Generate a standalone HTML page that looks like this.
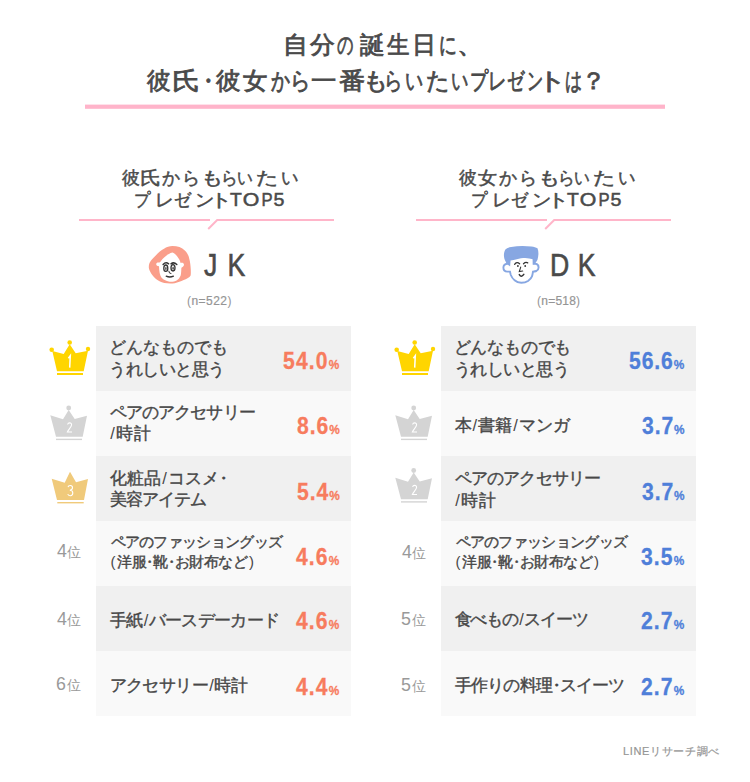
<!DOCTYPE html>
<html><head><meta charset="utf-8">
<style>
html,body{margin:0;padding:0;background:#fff;}
body{width:750px;height:782px;position:relative;overflow:hidden;font-family:"Liberation Sans",sans-serif;color:#4a4a4a;}
.t{position:absolute;white-space:nowrap;line-height:1;}
.row{position:absolute;width:255px;height:65px;}
.d{background:#f0f0f0;}
.l{background:#f9f9f9;}
.title{color:#4a4a4a;-webkit-text-stroke:0.8px #4a4a4a;}
.sub{color:#4a4a4a;-webkit-text-stroke:0.5px #4a4a4a;}
.name{color:#4a4a4a;-webkit-text-stroke:0.6px #4a4a4a;transform:scaleX(.86);transform-origin:0 0;}
.n{color:#959595;-webkit-text-stroke:0.2px #959595;}
.item{color:#474747;-webkit-text-stroke:0.4px #474747;}
.nd{font-style:normal;margin:0 -0.25em;}
.title .nd{margin:0 -0.12em;}
.sl{font-style:normal;margin:0 1.2px;-webkit-text-stroke:0;}
.pl{font-style:normal;margin-right:2px;-webkit-text-stroke:0;}
.pr{font-style:normal;margin-left:2px;-webkit-text-stroke:0;}
.n .pl,.n .pr{margin:0;}
.nd2{font-style:normal;margin-right:-0.4em;}
.pct{font-weight:bold;transform:scaleX(.88);transform-origin:0 0;-webkit-text-stroke:0.3px currentColor;}
.pct span{font-size:56%;}
.red{color:#f77c5e;}
.blue{color:#4f7fd9;}
.rank{color:#999999;}
.rank b{font-weight:normal;font-size:127%;}
svg{position:absolute;left:0;top:0;}
</style></head><body>
<div class="row d" style="left:96px;top:326px"></div>
<div class="row l" style="left:96px;top:391px"></div>
<div class="row d" style="left:96px;top:456px"></div>
<div class="row l" style="left:96px;top:521px"></div>
<div class="row d" style="left:96px;top:586px"></div>
<div class="row l" style="left:96px;top:651px"></div>
<div class="row d" style="left:441px;top:326px"></div>
<div class="row l" style="left:441px;top:391px"></div>
<div class="row d" style="left:441px;top:456px"></div>
<div class="row l" style="left:441px;top:521px"></div>
<div class="row d" style="left:441px;top:586px"></div>
<div class="row l" style="left:441px;top:651px"></div>

<svg id="shapes" width="750" height="782" viewBox="0 0 750 782">
  <rect x="85" y="104.6" width="580" height="4.2" fill="#ffb4ca"/>
  <g stroke="#ffb5c9" stroke-width="2" fill="none">
    <path d="M79 220H210"/><path d="M208.2 229L217.2 220H334"/>
    <path d="M416 220H547"/><path d="M545.2 229L554.2 220H671"/>
  </g>
  <defs>
    <g id="cr1">
      <circle cx="51.7" cy="349.8" r="2.3"/><circle cx="69.7" cy="342.5" r="2.3"/><circle cx="88" cy="349" r="2.2"/>
      <path d="M52.3 351L63.7 354L69.7 344.3L75.7 353.3L88 350.7L83.7 371.3H57Z"/>
      <rect x="57" y="373" width="26" height="2"/>
      <path d="M68.4 358.2L70.3 355.6L69.7 367.6" stroke="#fff" stroke-width="1.5" fill="none"/>
    </g>
    <g id="cr2">
      <circle cx="68.7" cy="408" r="2.4"/>
      <path d="M50.3 415.3L63 419.3L68.7 410L74.7 419L87 415.7L82.7 436.7H56Z"/>
      <rect x="56" y="438.7" width="26" height="1.4"/>
      <path d="M67.6 424.5C68 422.5 71.6 422 71.6 424.8C71.6 427 68.5 429.5 67.4 432H72" stroke="#fff" stroke-width="1.1" fill="none"/>
    </g>
    <g id="cr3">
      <path d="M51.7 478.7L64.7 482.7L70 471.7L76 482.3L88 479L84 500H57Z"/>
      <rect x="57.3" y="502" width="26.4" height="1.4"/>
      <path d="M68 487.2C68.5 484.8 72.5 484.8 72.5 487.6C72.5 489.6 70.8 490.2 69.8 490.2C71.5 490.2 72.8 491 72.8 493C72.8 496.5 68.3 496.3 67.8 494" stroke="#fff" stroke-width="1.1" fill="none"/>
    </g>
  </defs>
  <use href="#cr1" fill="#ffd500"/>
  <use href="#cr2" fill="#d4d4d4"/>
  <use href="#cr3" fill="#f0ca7b"/>
  <use href="#cr1" fill="#ffd500" transform="translate(345 0)"/>
  <use href="#cr2" fill="#d4d4d4" transform="translate(345 0)"/>
  <use href="#cr2" fill="#d4d4d4" transform="translate(345 62.5)"/>

  <!-- JK avatar -->
  <path fill="#fa9e8a" d="M172.4 246C177.5 246 182 247.5 184.8 250.4C187.5 253 188.8 256 189.2 258.4C190.3 262 190.6 266 190.8 270C190.9 273 190.8 275 190.6 275.5C189.8 277 188.5 277.6 187.5 278.2C183 280.5 176 283.6 170.4 283.6C166 283.6 162 282.8 160 281.6C157.5 280.5 155.5 279 154.4 277.6C152.5 275.5 151 273.5 150.4 272C149.5 270 148.8 268.5 148.8 267.2C148.8 264.5 149.5 262.5 150.4 261.6C152 259 154 257 156 255.2C158.5 252.5 161 250.5 164 248.8C166.5 247 169.5 246 172.4 246Z"/>
  <path fill="#fff" d="M172.4 252.6C175 253.5 177.5 256.5 179 259C179.8 260.5 180.3 261.8 180.6 263C181.6 262.6 183.4 262.6 183.9 264.2C184.2 265.5 183.6 266.4 181.4 267.8C181.2 271 181.2 273.5 180.6 275.8C179.5 278.2 178 279.6 177 280.2C175 281.4 173 281.8 171 281.8C169 281.8 168 281.5 167 281C164.5 280 162.5 279 161.4 277.4C160 275 159.6 273 159.4 271C159.2 269.5 159.1 267.5 159 266.2C157.5 266 156.2 265.5 156.2 264.2C156.2 263 157.4 262.4 158.6 262.6C159.5 262.7 160.3 262 161 261C163.5 257.5 167.5 254 172.4 252.6Z"/>
  <g fill="none" stroke="#333" stroke-linecap="round">
    <path d="M163.1 264.4Q165.8 261.6 168.6 263.8" stroke-width="1.5"/>
    <path d="M171 263.8Q173.8 261.6 176.8 264.5" stroke-width="1.5"/>
    <path d="M168.8 271.2Q168.9 273.9 171 273.6" stroke-width="1"/>
    <path d="M166.2 276.2Q169.8 277.8 173.4 276.2" stroke-width="1.3"/>
  </g>
  <ellipse cx="165.8" cy="268.2" rx="2" ry="3.2" fill="none" stroke="#333" stroke-width="1.3"/>
  <ellipse cx="173" cy="267.8" rx="2" ry="3.2" fill="none" stroke="#333" stroke-width="1.3"/>
  <ellipse cx="165.9" cy="268.6" rx="0.8" ry="1.8" fill="#555"/>
  <ellipse cx="173.1" cy="268.2" rx="0.8" ry="1.8" fill="#555"/>

  <!-- DK avatar -->
  <path fill="#fff" stroke="#87a7e2" stroke-width="1.9" d="M507.3 263.7C505 264 503.4 265.4 503.4 267.5C503.4 269.9 505 271.6 507.3 271.6L510 271.6C510.3 273 510.6 274.4 510.8 275C511.8 277.5 513 279 514.6 280.2C516.5 281.9 519 282.8 521.3 282.8C524 282.8 526.5 282 528 281C530 279.6 531.5 278 531.9 276.6C532.5 275 532.8 273 533 271.6C534.5 271.5 535.5 271.3 536.4 271C537.8 270.3 538.6 269 538.6 267.6C538.6 265.5 537.5 263.9 535.5 263.7L533.6 263.7L533.5 254L510 254Z"/>
  <path fill="#87a7e2" d="M505.6 249.2C507 248 509 247.3 511.2 246.9C515 246.4 518.5 246.1 522.4 246.1C525.5 246.1 528.5 246.3 531.4 246.6C534 247 536 247.6 537.5 248.3C538.2 250 538.5 252 538.4 254.2C538.3 256 538 258 537.5 259.8C536.8 261.5 535 263.5 533.6 264.8L533 259.2C530.5 258.7 528 258.3 525.2 258.1C522.5 258.1 519.5 258.7 516.8 259.2C514.5 259.7 512.5 260 510.6 260.4L510.1 266.5C508 265 506.3 263.5 505.6 261.5C504.5 259.5 503.9 257.5 503.9 255.3C503.9 253 504.5 250.8 505.6 249.2Z"/>
  <g fill="none" stroke="#333" stroke-linecap="round">
    <path d="M514.6 264.3Q516.8 261.2 519.6 263.7" stroke-width="1.3"/>
    <path d="M523.5 263.7Q525.8 261.6 527.7 262.9" stroke-width="1.3"/>
    <path d="M520.7 267.1L519.3 271.6L522.7 271" stroke-width="1.1"/>
    <path d="M519.3 274.6Q521.3 277.8 523.8 274.4" stroke-width="1.5"/>
  </g>
  <circle cx="517.9" cy="266" r="0.9" fill="#333"/>
  <circle cx="525.2" cy="266" r="0.9" fill="#333"/>
</svg>

<div class="t title" id="t1" style="left:0;top:32.50px;font-size:24px"><span style="position:absolute;left:276.00px;width:40px;text-align:center;transform:scaleX(1.042)">自</span><span style="position:absolute;left:301.50px;width:40px;text-align:center;transform:scaleX(1.032)">分</span><span style="position:absolute;left:325.50px;width:40px;text-align:center;transform:scaleX(0.681)">の</span><span style="position:absolute;left:351.50px;width:40px;text-align:center;transform:scaleX(1.028)">誕</span><span style="position:absolute;left:377.50px;width:40px;text-align:center;transform:scaleX(0.937)">生</span><span style="position:absolute;left:403.50px;width:40px;text-align:center;transform:scaleX(1.002)">日</span><span style="position:absolute;left:427.50px;width:40px;text-align:center;transform:scaleX(0.738)">に</span><span style="position:absolute;left:449.85px;width:40px;text-align:center;transform:scaleX(1.110)">、</span></div>
<div class="t title" id="t2" style="left:0;top:68.50px;font-size:24px"><span style="position:absolute;left:139.10px;width:40px;text-align:center;transform:scaleX(0.984)">彼</span><span style="position:absolute;left:166.20px;width:40px;text-align:center;transform:scaleX(1.170)">氏</span><span style="position:absolute;left:188.00px;width:40px;text-align:center;transform:scaleX(0.925)">・</span><span style="position:absolute;left:207.50px;width:40px;text-align:center;transform:scaleX(1.021)">彼</span><span style="position:absolute;left:235.20px;width:40px;text-align:center;transform:scaleX(1.017)">女</span><span style="position:absolute;left:261.20px;width:40px;text-align:center;transform:scaleX(0.790)">か</span><span style="position:absolute;left:281.30px;width:40px;text-align:center;transform:scaleX(0.843)">ら</span><span style="position:absolute;left:303.50px;width:40px;text-align:center;transform:scaleX(1.062)">一</span><span style="position:absolute;left:331.50px;width:40px;text-align:center;transform:scaleX(1.100)">番</span><span style="position:absolute;left:356.10px;width:40px;text-align:center;transform:scaleX(1.033)">も</span><span style="position:absolute;left:374.20px;width:40px;text-align:center;transform:scaleX(0.763)">ら</span><span style="position:absolute;left:394.40px;width:40px;text-align:center;transform:scaleX(0.750)">い</span><span style="position:absolute;left:417.80px;width:40px;text-align:center;transform:scaleX(0.964)">た</span><span style="position:absolute;left:439.60px;width:40px;text-align:center;transform:scaleX(0.719)">い</span><span style="position:absolute;left:458.55px;width:40px;text-align:center;transform:scaleX(0.751)">プ</span><span style="position:absolute;left:478.00px;width:40px;text-align:center;transform:scaleX(0.769)">レ</span><span style="position:absolute;left:495.95px;width:40px;text-align:center;transform:scaleX(0.724)">ゼ</span><span style="position:absolute;left:514.55px;width:40px;text-align:center;transform:scaleX(0.670)">ン</span><span style="position:absolute;left:531.80px;width:40px;text-align:center;transform:scaleX(1.220)">ト</span><span style="position:absolute;left:554.30px;width:40px;text-align:center;transform:scaleX(0.710)">は</span><span style="position:absolute;left:573.95px;width:40px;text-align:center;transform:scaleX(1.045)">？</span></div>
<div class="t sub" id="sl1" style="left:0;top:169.00px;font-size:18px"><span style="position:absolute;left:110.50px;width:40px;text-align:center;transform:scaleX(0.987)">彼</span><span style="position:absolute;left:130.50px;width:40px;text-align:center;transform:scaleX(1.169)">氏</span><span style="position:absolute;left:151.00px;width:40px;text-align:center;transform:scaleX(1.000)">か</span><span style="position:absolute;left:170.50px;width:40px;text-align:center;transform:scaleX(0.994)">ら</span><span style="position:absolute;left:191.50px;width:40px;text-align:center;transform:scaleX(1.220)">も</span><span style="position:absolute;left:208.65px;width:40px;text-align:center;transform:scaleX(0.923)">ら</span><span style="position:absolute;left:225.35px;width:40px;text-align:center;transform:scaleX(0.871)">い</span><span style="position:absolute;left:246.65px;width:40px;text-align:center;transform:scaleX(1.220)">た</span><span style="position:absolute;left:269.50px;width:40px;text-align:center;transform:scaleX(0.966)">い</span></div>
<div class="t sub" id="sl2" style="left:0;top:191.00px;font-size:18px"><span style="position:absolute;left:121.50px;width:40px;text-align:center;transform:scaleX(0.905)">プ</span><span style="position:absolute;left:144.00px;width:40px;text-align:center;transform:scaleX(1.038)">レ</span><span style="position:absolute;left:163.00px;width:40px;text-align:center;transform:scaleX(0.945)">ゼ</span><span style="position:absolute;left:184.50px;width:40px;text-align:center;transform:scaleX(1.067)">ン</span><span style="position:absolute;left:201.25px;width:40px;text-align:center;transform:scaleX(1.220)">ト</span><span style="position:absolute;left:215.75px;width:40px;text-align:center;transform:scaleX(1.074)">T</span><span style="position:absolute;left:231.00px;width:40px;text-align:center;transform:scaleX(1.183)">O</span><span style="position:absolute;left:246.65px;width:40px;text-align:center;transform:scaleX(0.924)">P</span><span style="position:absolute;left:259.00px;width:40px;text-align:center;transform:scaleX(1.087)">5</span></div>
<div class="t sub" id="sr1" style="left:0;top:168.50px;font-size:18px"><span style="position:absolute;left:447.50px;width:40px;text-align:center;transform:scaleX(0.987)">彼</span><span style="position:absolute;left:467.00px;width:40px;text-align:center;transform:scaleX(1.055)">女</span><span style="position:absolute;left:488.00px;width:40px;text-align:center;transform:scaleX(1.000)">か</span><span style="position:absolute;left:507.50px;width:40px;text-align:center;transform:scaleX(0.994)">ら</span><span style="position:absolute;left:528.50px;width:40px;text-align:center;transform:scaleX(1.220)">も</span><span style="position:absolute;left:545.65px;width:40px;text-align:center;transform:scaleX(0.923)">ら</span><span style="position:absolute;left:562.35px;width:40px;text-align:center;transform:scaleX(0.871)">い</span><span style="position:absolute;left:583.65px;width:40px;text-align:center;transform:scaleX(1.220)">た</span><span style="position:absolute;left:606.50px;width:40px;text-align:center;transform:scaleX(0.966)">い</span></div>
<div class="t sub" id="sr2" style="left:0;top:191.00px;font-size:18px"><span style="position:absolute;left:458.50px;width:40px;text-align:center;transform:scaleX(0.905)">プ</span><span style="position:absolute;left:481.00px;width:40px;text-align:center;transform:scaleX(1.038)">レ</span><span style="position:absolute;left:500.00px;width:40px;text-align:center;transform:scaleX(0.945)">ゼ</span><span style="position:absolute;left:521.50px;width:40px;text-align:center;transform:scaleX(1.067)">ン</span><span style="position:absolute;left:538.25px;width:40px;text-align:center;transform:scaleX(1.220)">ト</span><span style="position:absolute;left:552.75px;width:40px;text-align:center;transform:scaleX(1.074)">T</span><span style="position:absolute;left:568.00px;width:40px;text-align:center;transform:scaleX(1.183)">O</span><span style="position:absolute;left:583.65px;width:40px;text-align:center;transform:scaleX(0.924)">P</span><span style="position:absolute;left:596.00px;width:40px;text-align:center;transform:scaleX(1.087)">5</span></div>
<div class="t name" id="jk" style="left:204.00px;top:250.00px;font-size:31px;letter-spacing:1.650px">J K</div>
<div class="t name" id="dk" style="left:550.00px;top:250.00px;font-size:31px;letter-spacing:0.650px">D K</div>
<div class="t n" id="n1" style="left:187.00px;top:295.00px;font-size:12px;letter-spacing:0.467px"><i class="pl">(</i>n=522<i class="pr">)</i></div>
<div class="t n" id="n2" style="left:537.00px;top:295.00px;font-size:12px;letter-spacing:0.233px"><i class="pl">(</i>n=518<i class="pr">)</i></div>
<div class="t n" id="ft" style="left:623.00px;top:746.00px;font-size:11px;letter-spacing:0.667px">LINEリサーチ調べ</div>
<div class="t item" id="i1a" style="left:109.00px;top:339.00px;font-size:16.5px;letter-spacing:-0.070px">どんなものでも</div>
<div class="t item" id="i1b" style="left:109.00px;top:361.00px;font-size:16.5px;letter-spacing:-0.467px">うれしいと思う</div>
<div class="t item" id="i2a" style="left:110.00px;top:404.30px;font-size:16.5px;letter-spacing:-0.928px">ペアのアクセサリー</div>
<div class="t item" id="i2b" style="left:109.00px;top:425.00px;font-size:16.5px;letter-spacing:0.490px"><i class="sl">/</i>時計</div>
<div class="t item" id="i3a" style="left:110.00px;top:470.20px;font-size:16.5px;letter-spacing:-0.020px">化粧品<i class="sl">/</i>コスメ<i class="nd">・</i></div>
<div class="t item" id="i3b" style="left:110.00px;top:491.40px;font-size:16.5px;letter-spacing:-1.036px">美容アイテム</div>
<div class="t item" id="i4a" style="left:110.50px;top:534.10px;font-size:15px;letter-spacing:-0.687px">ペアのファッショングッズ</div>
<div class="t item" id="i4b" style="left:110.50px;top:554.00px;font-size:15px;letter-spacing:-0.496px"><i class="pl">(</i>洋服<i class="nd">・</i>靴<i class="nd">・</i>お財布など<i class="pr">)</i></div>
<div class="t item" id="i5" style="left:110.00px;top:611.50px;font-size:16.5px;letter-spacing:-0.700px">手紙<i class="sl">/</i>バースデーカード</div>
<div class="t item" id="i6" style="left:109.50px;top:676.70px;font-size:16.5px;letter-spacing:-0.595px">アクセサリー<i class="sl">/</i>時計</div>
<div class="t item" id="j1a" style="left:453.50px;top:339.00px;font-size:16.5px;letter-spacing:-0.187px">どんなものでも</div>
<div class="t item" id="j1b" style="left:453.50px;top:361.00px;font-size:16.5px;letter-spacing:-0.420px">うれしいと思う</div>
<div class="t item" id="j2" style="left:454.50px;top:416.50px;font-size:16.5px;letter-spacing:-0.100px">本<i class="sl">/</i>書籍<i class="sl">/</i>マンガ</div>
<div class="t item" id="j3a" style="left:455.00px;top:470.40px;font-size:16.5px;letter-spacing:-0.892px">ペアのアクセサリー</div>
<div class="t item" id="j3b" style="left:454.00px;top:491.50px;font-size:16.5px;letter-spacing:0.280px"><i class="sl">/</i>時計</div>
<div class="t item" id="j4a" style="left:455.50px;top:534.10px;font-size:15px;letter-spacing:-0.687px">ペアのファッショングッズ</div>
<div class="t item" id="j4b" style="left:455.50px;top:554.00px;font-size:15px;letter-spacing:-0.496px"><i class="pl">(</i>洋服<i class="nd">・</i>靴<i class="nd">・</i>お財布など<i class="pr">)</i></div>
<div class="t item" id="j5" style="left:454.50px;top:610.50px;font-size:16.5px;letter-spacing:-1.085px">食べもの<i class="sl">/</i>スイーツ</div>
<div class="t item" id="j6" style="left:455.00px;top:676.50px;font-size:16.5px;letter-spacing:-0.840px">手作りの料理<i class="nd">・</i>スイーツ</div>
<div class="t pct red" id="p1" style="left:283.40px;top:348.90px;font-size:24px;letter-spacing:1.298px">54.0<span>%</span></div>
<div class="t pct red" id="p2" style="left:297.00px;top:414.30px;font-size:24px;letter-spacing:1.133px">8.6<span>%</span></div>
<div class="t pct red" id="p3" style="left:297.00px;top:479.80px;font-size:24px;letter-spacing:1.133px">5.4<span>%</span></div>
<div class="t pct red" id="p4" style="left:296.00px;top:544.70px;font-size:24px;letter-spacing:1.250px">4.6<span>%</span></div>
<div class="t pct red" id="p5" style="left:296.00px;top:608.75px;font-size:24px;letter-spacing:1.250px">4.6<span>%</span></div>
<div class="t pct red" id="p6" style="left:296.00px;top:674.75px;font-size:24px;letter-spacing:1.250px">4.4<span>%</span></div>
<div class="t pct blue" id="q1" style="left:629.00px;top:349.40px;font-size:24px;letter-spacing:1.025px">56.6<span>%</span></div>
<div class="t pct blue" id="q2" style="left:642.00px;top:414.30px;font-size:24px;letter-spacing:1.033px">3.7<span>%</span></div>
<div class="t pct blue" id="q3" style="left:642.00px;top:479.80px;font-size:24px;letter-spacing:1.033px">3.7<span>%</span></div>
<div class="t pct blue" id="q4" style="left:641.00px;top:544.70px;font-size:24px;letter-spacing:1.250px">3.5<span>%</span></div>
<div class="t pct blue" id="q5" style="left:641.00px;top:608.75px;font-size:24px;letter-spacing:1.250px">2.7<span>%</span></div>
<div class="t pct blue" id="q6" style="left:641.00px;top:674.75px;font-size:24px;letter-spacing:1.250px">2.7<span>%</span></div>
<div class="t rank" id="r4" style="left:57.00px;top:542.85px;font-size:14px;letter-spacing:0.000px"><b>4</b>位</div>
<div class="t rank" id="r5" style="left:57.00px;top:610.75px;font-size:14px;letter-spacing:0.000px"><b>4</b>位</div>
<div class="t rank" id="r6" style="left:56.00px;top:675.95px;font-size:14px;letter-spacing:0.700px"><b>6</b>位</div>
<div class="t rank" id="s4" style="left:402.00px;top:544.10px;font-size:14px;letter-spacing:0.000px"><b>4</b>位</div>
<div class="t rank" id="s5" style="left:401.00px;top:611.40px;font-size:14px;letter-spacing:0.700px"><b>5</b>位</div>
<div class="t rank" id="s6" style="left:401.00px;top:676.75px;font-size:14px;letter-spacing:0.700px"><b>5</b>位</div>
</body></html>
